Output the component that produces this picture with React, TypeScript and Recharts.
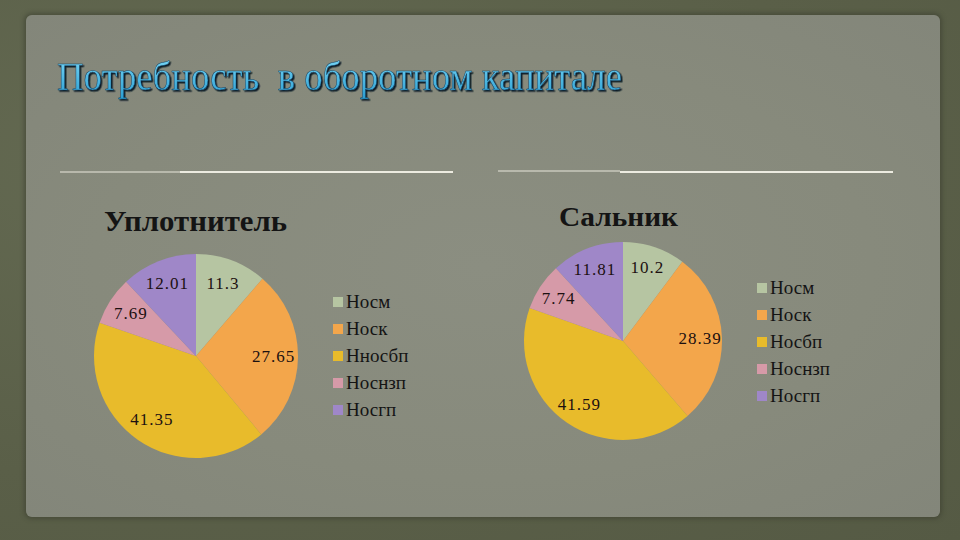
import React from 'react';
import { PieChart, Pie, Cell } from 'recharts';

const categoriesSeal = ['Носм', 'Носк', 'Нносбп', 'Носнзп', 'Носгп'];
const valuesSeal = [11.3, 27.65, 41.35, 7.69, 12.01];
const categoriesGland = ['Носм', 'Носк', 'Носбп', 'Носнзп', 'Носгп'];
const valuesGland = [10.2, 28.39, 41.59, 7.74, 11.81];
const sliceColors = ['#b6c5a2', '#f3a64b', '#e8bb2b', '#d69aa8', '#9f87c8'];

const mainTitle = 'Потребность  в оборотном капитале';
const titleSeal = 'Уплотнитель';
const titleGland = 'Сальник';

const dataSeal = categoriesSeal.map((name, i) => ({ name, value: valuesSeal[i] }));
const dataGland = categoriesGland.map((name, i) => ({ name, value: valuesGland[i] }));

const RADIAN = Math.PI / 180;

const makeLabel = (frac: number) => (props: any) => {
  const { cx, cy, midAngle, outerRadius, value } = props;
  const r = outerRadius * frac;
  const x = cx + r * Math.cos(-midAngle * RADIAN);
  const y = cy + r * Math.sin(-midAngle * RADIAN);
  return (
    <text
      x={x}
      y={y}
      textAnchor="middle"
      dominantBaseline="central"
      fill="#1c1010"
      fontFamily="'Liberation Serif', serif"
      fontSize={17}
      letterSpacing={1}
    >
      {value}
    </text>
  );
};

function LegendBox({ names, left, top }: { names: string[]; left: number; top: number }) {
  return (
    <div style={{ position: 'absolute', left, top }}>
      {names.map((name, i) => (
        <div key={name} style={{ display: 'flex', alignItems: 'center', height: 27 }}>
          <span
            style={{
              display: 'inline-block',
              width: 10,
              height: 10,
              background: sliceColors[i],
              marginRight: 3,
            }}
          />
          <span style={{ fontFamily: "'Liberation Serif', serif", fontSize: 19, color: '#141414' }}>
            {name}
          </span>
        </div>
      ))}
    </div>
  );
}

export default function App() {
  return (
    <div
      style={{
        position: 'absolute',
        left: 0,
        top: 0,
        width: 960,
        height: 540,
        overflow: 'hidden',
        background:
          'radial-gradient(ellipse at 20% 30%, #646a52 0%, #5a5f48 60%, #555a44 100%)',
      }}
    >
      <div
        style={{
          position: 'absolute',
          left: 26,
          top: 15,
          width: 914,
          height: 502,
          borderRadius: 6,
          background:
            'radial-gradient(ellipse at 50% 50%, #8b8e81 0%, #878a7c 60%, #83867a 100%)',
          boxShadow: '0 0 4px 2px rgba(60,64,48,0.6)',
        }}
      />
      <svg
        width={960}
        height={540}
        style={{ position: 'absolute', left: 0, top: 0 }}
      >
        <defs>
          <linearGradient id="titleGrad" x1="0" y1="0" x2="0" y2="1">
            <stop offset="0%" stopColor="#7fdcfa" />
            <stop offset="100%" stopColor="#2a9ed2" />
          </linearGradient>
          <filter id="titleShadow" x="-5%" y="-20%" width="110%" height="140%">
            <feDropShadow dx={1.5} dy={1.5} stdDeviation={0.4} floodColor="#111a28" floodOpacity={1} />
          </filter>
        </defs>
        <text
          x={57}
          y={90}
          textLength={565}
          lengthAdjust="spacingAndGlyphs"
          fontFamily="'Liberation Serif', serif"
          fontSize={41}
          fill="url(#titleGrad)"
          stroke="#123a5a"
          strokeWidth={0.5}
          filter="url(#titleShadow)"
          style={{ whiteSpace: 'pre' }}
        >
          {mainTitle}
        </text>
        <line x1={60} y1={172} x2={180} y2={172} stroke="#c9c8bc" strokeWidth={1.5} />
        <line x1={180} y1={172} x2={453} y2={172} stroke="#ecebe0" strokeWidth={2} />
        <line x1={498} y1={171} x2={620} y2={171} stroke="#c9c8bc" strokeWidth={1.5} />
        <line x1={620} y1={172} x2={893} y2={172} stroke="#ecebe0" strokeWidth={2} />
        <text
          x={104}
          y={231}
          textLength={183}
          lengthAdjust="spacingAndGlyphs"
          fontFamily="'Liberation Serif', serif"
          fontWeight="bold"
          fontSize={29}
          fill="#141414"
        >
          {titleSeal}
        </text>
        <text
          x={559}
          y={226}
          textLength={119}
          lengthAdjust="spacingAndGlyphs"
          fontFamily="'Liberation Serif', serif"
          fontWeight="bold"
          fontSize={28}
          fill="#141414"
        >
          {titleGland}
        </text>
      </svg>

      <div style={{ position: 'absolute', left: 0, top: 0 }}>
        <PieChart width={480} height={540} margin={{ top: 0, right: 0, bottom: 0, left: 0 }}>
          <Pie
            data={dataSeal}
            dataKey="value"
            nameKey="name"
            cx={196}
            cy={356}
            outerRadius={102}
            startAngle={90}
            endAngle={-270}
            stroke="none"
            labelLine={false}
            label={makeLabel(0.76)}
            isAnimationActive={false}
          >
            {dataSeal.map((d, i) => (
              <Cell key={d.name} fill={sliceColors[i]} />
            ))}
          </Pie>
        </PieChart>
      </div>
      <LegendBox names={categoriesSeal} left={333} top={288} />

      <div style={{ position: 'absolute', left: 480, top: 0 }}>
        <PieChart width={480} height={540} margin={{ top: 0, right: 0, bottom: 0, left: 0 }}>
          <Pie
            data={dataGland}
            dataKey="value"
            nameKey="name"
            cx={143}
            cy={341}
            outerRadius={99}
            startAngle={90}
            endAngle={-270}
            stroke="none"
            labelLine={false}
            label={makeLabel(0.78)}
            isAnimationActive={false}
          >
            {dataGland.map((d, i) => (
              <Cell key={d.name} fill={sliceColors[i]} />
            ))}
          </Pie>
        </PieChart>
      </div>
      <LegendBox names={categoriesGland} left={757} top={274} />
    </div>
  );
}
